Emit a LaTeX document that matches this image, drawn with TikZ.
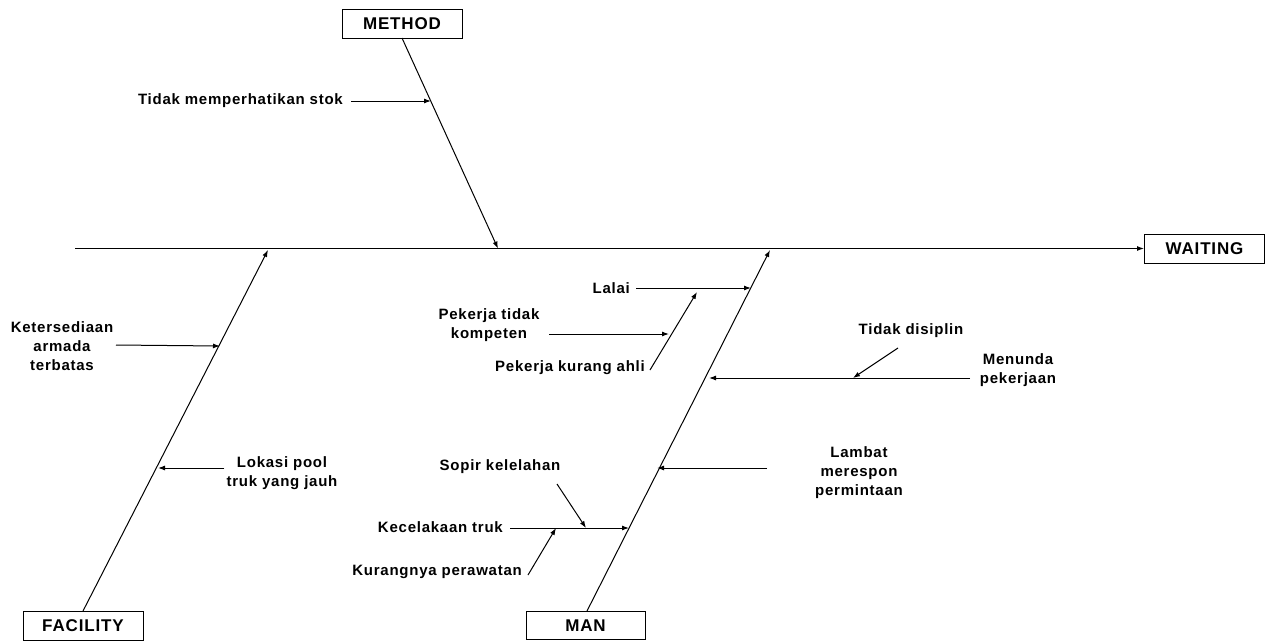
\documentclass[tikz,border=0pt]{standalone}
\usepackage{fontspec}
\setmainfont{Liberation Sans}[LetterSpace=5]
\usetikzlibrary{arrows.meta}
\begin{document}
\begin{tikzpicture}[x=1pt,y=-1pt,
  box/.style={draw,line width=1pt,minimum width=120pt,minimum height=29pt,inner sep=0pt,font=\bfseries\fontsize{17}{19}\selectfont},
  lbl/.style={inner sep=0pt,align=center,font=\bfseries\fontsize{15}{19}\selectfont},
  arr/.style={line width=1pt,-{Latex[length=7pt,width=5pt]}}]
\useasboundingbox (0,0) rectangle (1272,641);
% boxes
\node[box] (method) at (402,23.5) {METHOD};
\node[box] (waiting) at (1204.5,248.5) {WAITING};
\node[box] (facility) at (83,625.5) {FACILITY};
\node[box,minimum width=119pt,minimum height=28pt] (man) at (585.5,625.5) {MAN};
% spine points
\coordinate (tail) at (75,248.5);
\coordinate (mhead) at (498,248.5);
\coordinate (fhead) at (268,250);
\coordinate (nhead) at (770,250);
\coordinate (mfoot) at (402,38);
\coordinate (ffoot) at (83,611);
\coordinate (nfoot) at (587,611);
% main line
\draw[arr] (tail) -- (waiting.west);
\draw[arr] (mfoot) -- (mhead);
\draw[arr] (ffoot) -- (fhead);
\draw[arr] (nfoot) -- (nhead);
% METHOD causes
\node[lbl,anchor=east] (stok) at (343,101) {Tidak memperhatikan stok};
\coordinate (stokT) at (431,101);
\draw[arr] ([xshift=8pt]stok.east) -- (stokT);
% FACILITY causes
\node[lbl] (armada) at (62,346) {Ketersediaan\\armada\\terbatas};
\coordinate (armadaS) at (116,345);
\coordinate (armadaT) at (220,346);
\draw[arr] (armadaS) -- (armadaT);
\node[lbl] (lokasi) at (282,473) {Lokasi pool\\truk yang jauh};
\coordinate (lokasiT) at (158,468);
\draw[arr] ([xshift=-2pt]lokasi.west |- lokasiT) -- (lokasiT);
% MAN causes
\node[lbl,anchor=east] (lalai) at (630,288) {Lalai};
\coordinate (lalaiT) at (751,288);
\draw[arr] ([xshift=6pt]lalai.east) -- (lalaiT);
\node[lbl] (kompeten) at (489,325) {Pekerja tidak\\kompeten};
\coordinate (kompS) at (549,334);
\coordinate (kompT) at (669,334);
\draw[arr] (kompS) -- (kompT);
\node[lbl,anchor=east] (ahli) at (645,368) {Pekerja kurang ahli};
\coordinate (ahliS) at (650,370);
\coordinate (ahliT) at (697,292);
\draw[arr] (ahliS) -- (ahliT);
\node[lbl] (menunda) at (1018,370) {Menunda\\pekerjaan};
\coordinate (menundaS) at (970,378);
\coordinate (menundaT) at (709,378);
\draw[arr] (menundaS) -- (menundaT);
\node[lbl] (disiplin) at (911,331) {Tidak disiplin};
\coordinate (disiplinS) at (898,348);
\coordinate (disiplinT) at (853,378);
\draw[arr] (disiplinS) -- (disiplinT);
\node[lbl] (lambat) at (859,473) {Lambat\\merespon\\permintaan};
\coordinate (lambatS) at (767,468);
\coordinate (lambatT) at (657,468);
\draw[arr] (lambatS) -- (lambatT);
\node[lbl,anchor=east] (kecelakaan) at (503,527) {Kecelakaan truk};
\coordinate (kecS) at (510,528);
\coordinate (kecT) at (629,528);
\draw[arr] (kecS) -- (kecT);
\node[lbl] (sopir) at (500,467) {Sopir kelelahan};
\coordinate (sopirS) at (557,484);
\coordinate (sopirT) at (586,528);
\draw[arr] (sopirS) -- (sopirT);
\node[lbl,anchor=east] (rawat) at (522,572) {Kurangnya perawatan};
\coordinate (rawatS) at (528,575);
\coordinate (rawatT) at (556,528);
\draw[arr] (rawatS) -- (rawatT);
\end{tikzpicture}
\end{document}
